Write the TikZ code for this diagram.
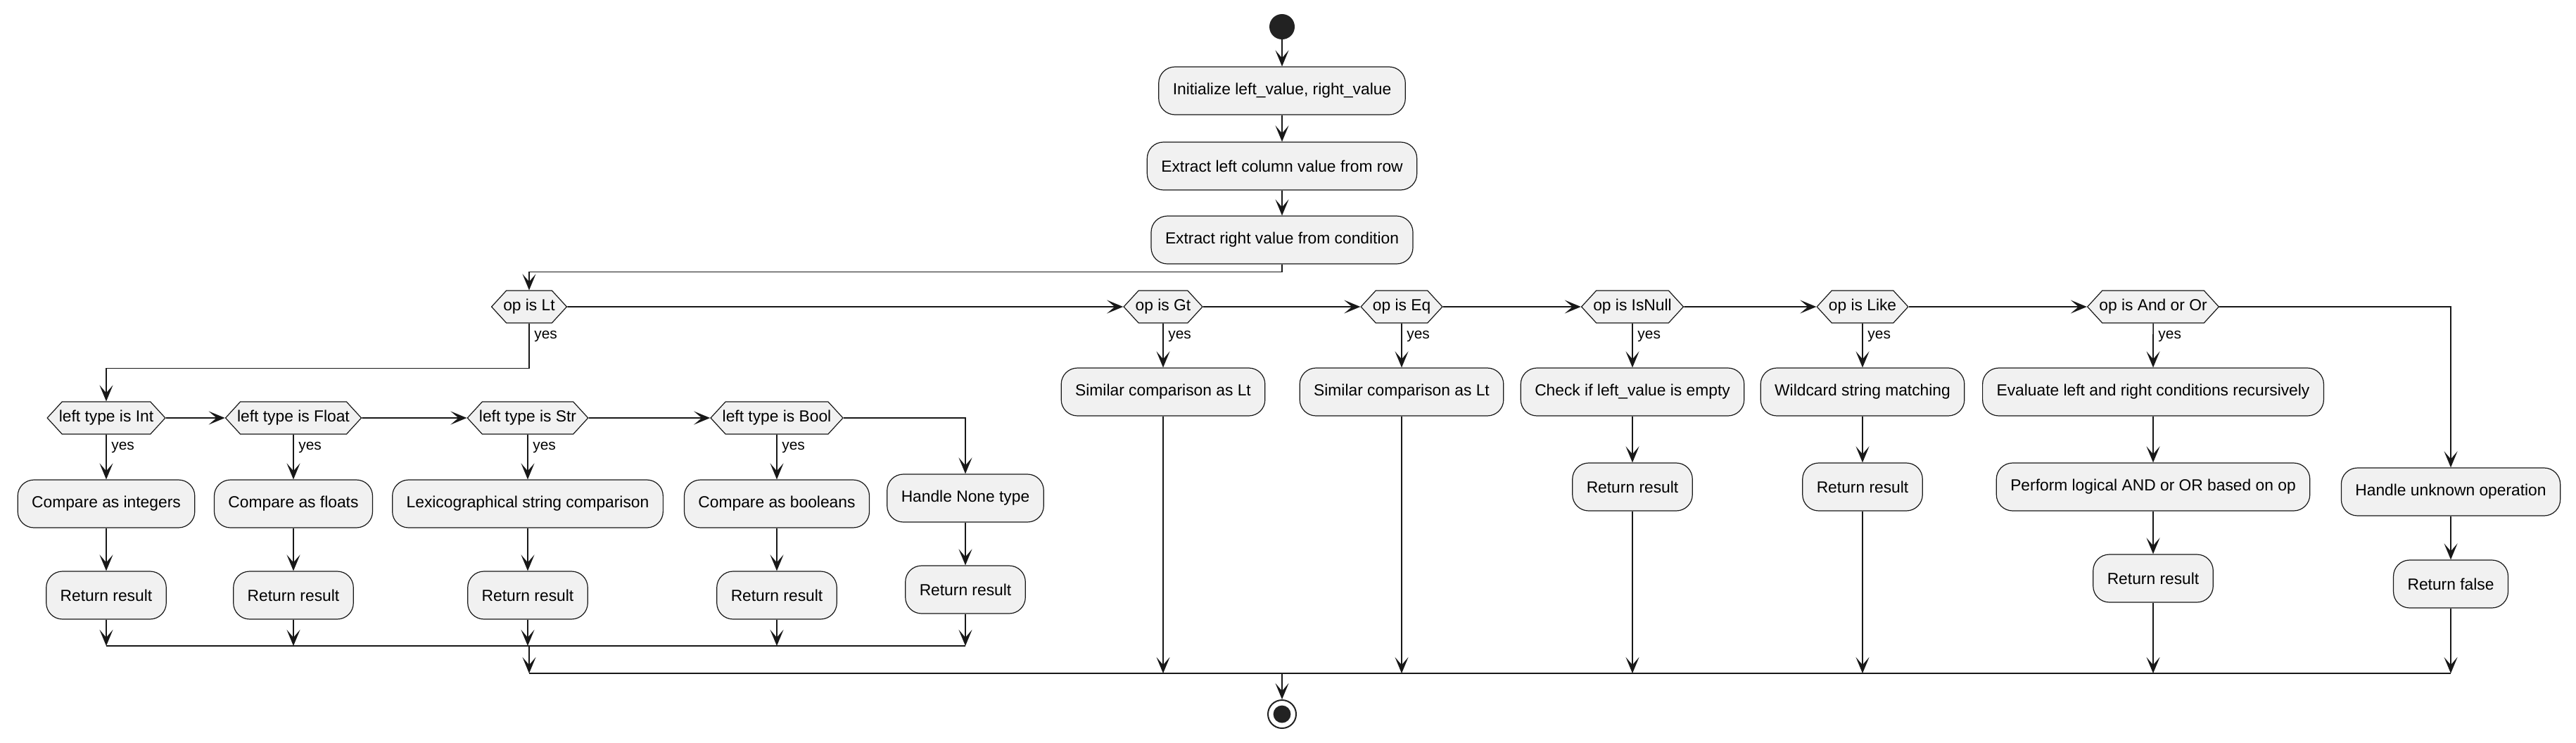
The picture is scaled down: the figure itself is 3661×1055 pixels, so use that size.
\documentclass[tikz,border=0pt]{standalone}
\usepackage{fontspec}
\setmainfont{Liberation Sans}
\usetikzlibrary{shapes.symbols,arrows.meta,calc}
\definecolor{actfill}{HTML}{F1F1F1}
\definecolor{actline}{HTML}{181818}
\definecolor{dotcol}{HTML}{222222}
\tikzset{
  act/.style={draw=actline,line width=0.6pt,fill=actfill,rounded corners=11.5pt,
    minimum height=34pt,inner xsep=10pt,font=\fontsize{11.4}{13.6}\selectfont},
  test/.style={draw=actline,line width=0.6pt,fill=actfill,shape=signal,
    signal to=west and east,signal pointer angle=95,minimum height=23pt,
    inner xsep=-2.2pt,font=\fontsize{11.4}{13.6}\selectfont},
  flow/.style={draw=actline,line width=0.8pt,
    -{Stealth[length=11.5pt,width=9.5pt,inset=5.5pt]}},
  bar/.style={draw=actline,line width=1.2pt},
}
\newcommand{\yes}[1]{% label on the yes branch below a test
  \node[anchor=west,inner sep=0pt,font=\fontsize{10.45}{12.5}\selectfont]
    (#1-yes) at ($(#1.south)+(7,18)$) {yes};
}

\begin{document}
\begin{tikzpicture}[x=0.5pt,y=-0.5pt]
  \useasboundingbox (0,0) rectangle (3661,1055);

  % start and setup
  \node[circle,fill=dotcol,minimum size=18pt,inner sep=0pt] (start) at (1822,38) {};
  \node[act] (init) at (1822,129) {Initialize left\_value, right\_value};
  \node[act] (exl) at (1822,236) {Extract left column value from row};
  \node[act] (exr) at (1822,341) {Extract right value from condition};

  % tests on op
  \node[test] (lt) at (752,436) {op is Lt};
  \node[test] (gt) at (1653,436) {op is Gt};
  \node[test] (eq) at (1992,436) {op is Eq};
  \node[test] (isnull) at (2320,436) {op is IsNull};
  \node[test] (like) at (2647,436) {op is Like};
  \node[test] (andor) at (3060,436) {op is And or Or};

  % tests on left type
  \node[test] (tint) at (151,594) {left type is Int};
  \node[test] (tfloat) at (417,594) {left type is Float};
  \node[test] (tstr) at (750,594) {left type is Str};
  \node[test] (tbool) at (1104,594) {left type is Bool};

  % actions under Lt
  \node[act] (cmpint) at (151,716) {Compare as integers};
  \node[act] (cmpfloat) at (417,716) {Compare as floats};
  \node[act] (cmpstr) at (750,716) {Lexicographical string comparison};
  \node[act] (cmpbool) at (1104,716) {Compare as booleans};
  \node[act] (none) at (1372,708) {Handle None type};
  \foreach \n/\x in {int/151,float/417,str/750,bool/1104}
    \node[act] (ret\n) at (\x,846) {Return result};
  \node[act] (retnone) at (1372,838) {Return result};

  % actions under the other tests
  \node[act] (simgt) at (1653,557) {Similar comparison as Lt};
  \node[act] (simeq) at (1992,557) {Similar comparison as Lt};
  \node[act] (empty) at (2320,557) {Check if left\_value is empty};
  \node[act] (wild) at (2647,557) {Wildcard string matching};
  \node[act] (eval) at (3060,557) {Evaluate left and right conditions recursively};
  \node[act] (retnull) at (2320,692) {Return result};
  \node[act] (retlike) at (2647,692) {Return result};
  \node[act] (logic) at (3060,692) {Perform logical AND or OR based on op};
  \node[act] (retlogic) at (3060,822) {Return result};
  \node[act] (unknown) at (3483,699) {Handle unknown operation};
  \node[act] (retfalse) at (3483,830) {Return false};

  % stop
  \node[circle,draw=dotcol,line width=1pt,fill=white,minimum size=20pt,inner sep=0pt] (stop) at (1822,1015) {};
  \fill[dotcol] (stop) circle (6.2pt);

  \coordinate (lowbar) at (0,918);
  \coordinate (endbar) at (0,957);

  % connectors
  \draw[flow] (start) -- (init);
  \draw[flow] (init) -- (exl);
  \draw[flow] (exl) -- (exr);
  \draw[flow] (exr.south) -- ++(0,11) -| (lt.north);
  \foreach \a/\b in {lt/gt,gt/eq,eq/isnull,isnull/like,like/andor,
                     tint/tfloat,tfloat/tstr,tstr/tbool}
    \draw[flow] (\a) -- (\b);
  \draw[flow] (andor.east) -| (unknown.north);
  \draw[flow] (tbool.east) -| (none.north);
  \draw[flow] (lt.south) -- ++(0,64) -| (tint.north);
  \yes{lt}
  \foreach \a/\b in {gt/simgt,eq/simeq,isnull/empty,like/wild,andor/eval,
                     tint/cmpint,tfloat/cmpfloat,tstr/cmpstr,tbool/cmpbool}{
    \draw[flow] (\a) -- (\b);
    \yes{\a}
  }
  \foreach \a/\b in {cmpint/retint,cmpfloat/retfloat,cmpstr/retstr,cmpbool/retbool,
                     none/retnone,empty/retnull,wild/retlike,eval/logic,
                     logic/retlogic,unknown/retfalse}
    \draw[flow] (\a) -- (\b);

  % merging
  \foreach \n in {retint,retfloat,retstr,retbool,retnone}
    \draw[flow] (\n) -- (\n |- lowbar);
  \draw[bar] (retint |- lowbar) -- (retnone |- lowbar);
  \draw[flow] (lt |- lowbar) -- (lt |- endbar);
  \foreach \n in {simgt,simeq,retnull,retlike,retlogic,retfalse}
    \draw[flow] (\n) -- (\n |- endbar);
  \draw[bar] (lt |- endbar) -- (retfalse |- endbar);
  \draw[flow] (stop |- endbar) -- (stop);
\end{tikzpicture}
\end{document}
